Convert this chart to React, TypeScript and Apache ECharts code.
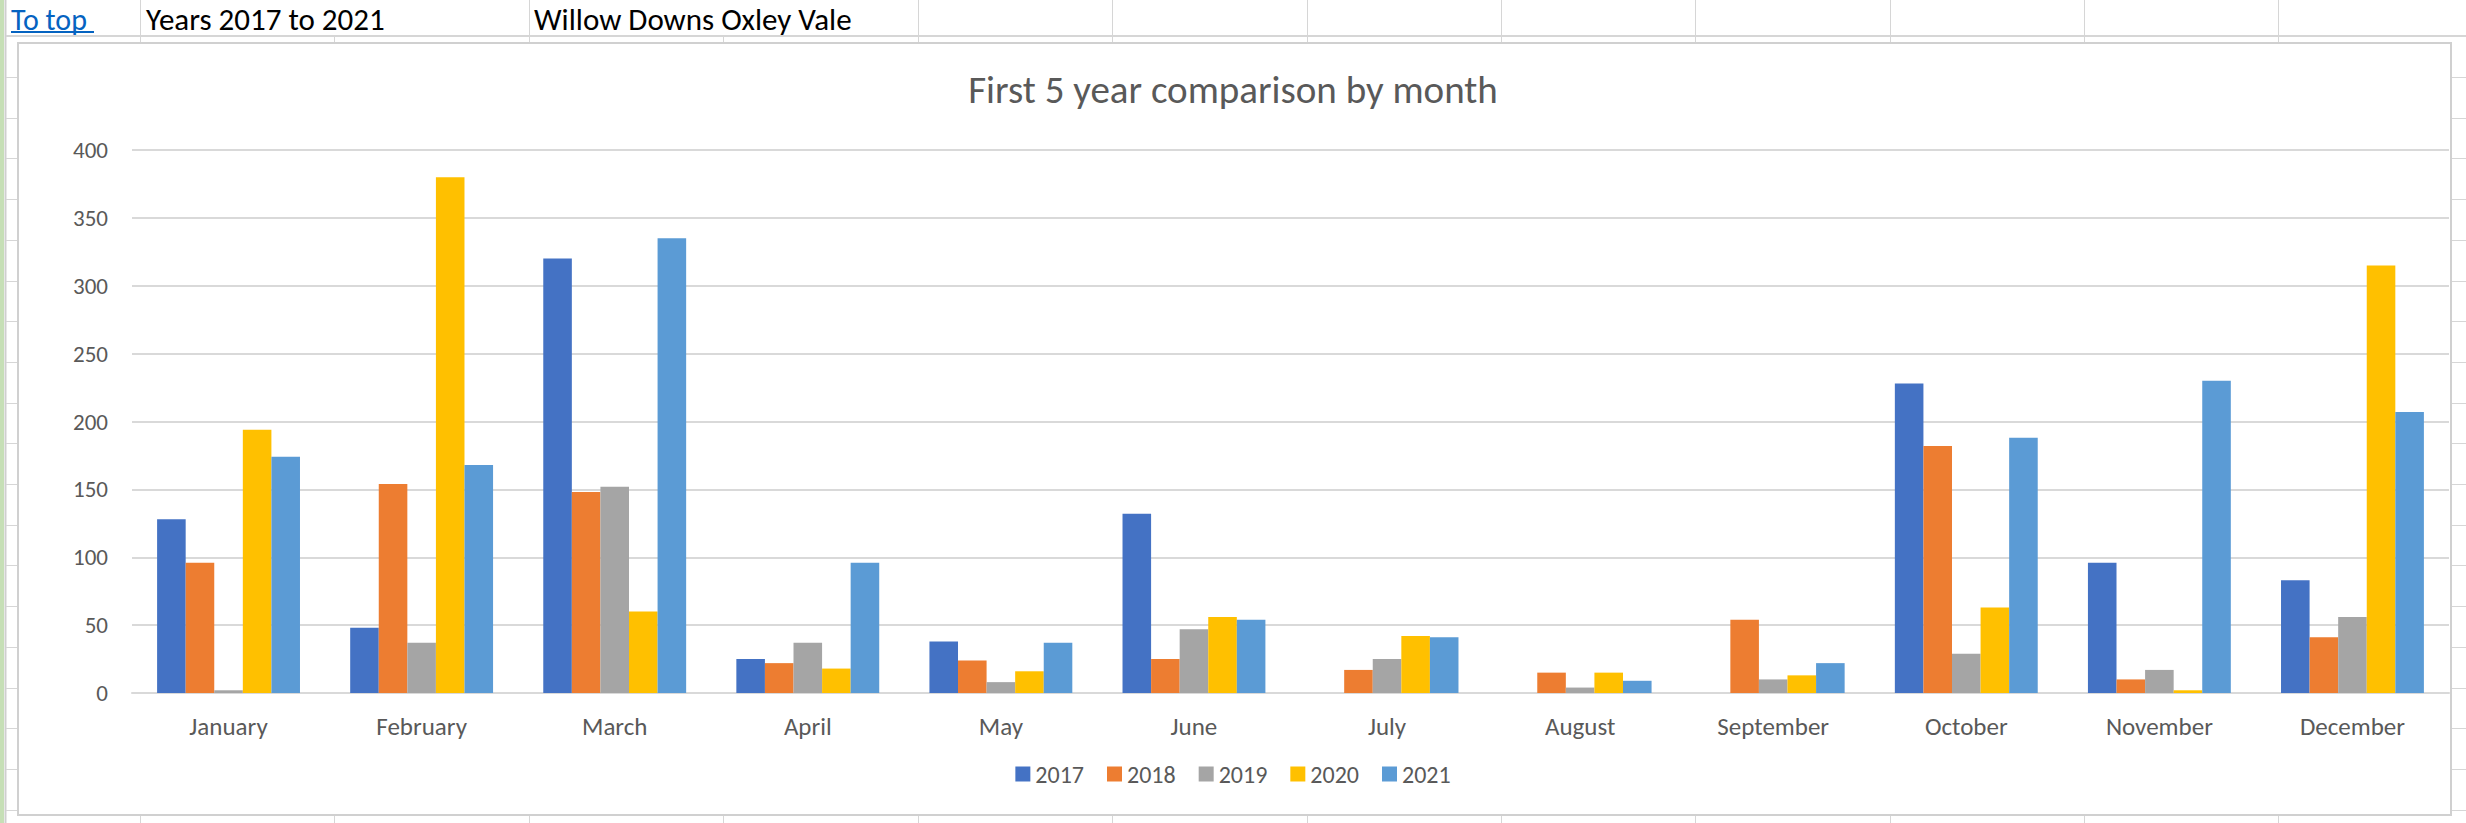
import React, { useEffect, useRef } from "react";
import * as echarts from "echarts";

const months = ["January", "February", "March", "April", "May", "June", "July", "August", "September", "October", "November", "December"];
const seriesNames = ["2017", "2018", "2019", "2020", "2021"];
const v2017 = [128, 48, 320, 25, 38, 132, 0, 0, 0, 228, 96, 83];
const v2018 = [96, 154, 148, 22, 24, 25, 17, 15, 54, 182, 10, 41];
const v2019 = [2, 37, 152, 37, 8, 47, 25, 4, 10, 29, 17, 56];
const v2020 = [194, 380, 60, 18, 16, 56, 42, 15, 13, 63, 2, 315];
const v2021 = [174, 168, 335, 96, 37, 54, 41, 9, 22, 188, 230, 207];
const seriesColors = ["#4472C4", "#ED7D31", "#A5A5A5", "#FFC000", "#5B9BD5"];
const yTicks = { min: 0, max: 400, interval: 50 };

const title = "First 5 year comparison by month";
const cellTexts = ["To top", "Years 2017 to 2021", "Willow Downs Oxley Vale"];

const FONT = "Carlito, Calibri, Lato, sans-serif";

export default function App() {
  const ref = useRef<HTMLDivElement>(null);
  useEffect(() => {
    if (!ref.current) return;
    const chart = echarts.init(ref.current, null, { renderer: "svg" });
    const W = 2466;
    const H = 823;
    const colX = [140, 334, 529, 723, 918, 1112, 1307, 1501, 1695, 1890, 2084, 2278];
    const rowY: number[] = [];
    for (let y = 77; y < H; y += 40.7) rowY.push(Math.round(y));
    const gridColor = "#d6d6d6";
    const graphics: any[] = [];
    graphics.push({ type: "rect", shape: { x: 0, y: 0, width: 4, height: H }, style: { fill: "#c6dfb6" }, z: -10 });
    graphics.push({ type: "line", shape: { x1: 5.5, y1: 0, x2: 5.5, y2: H }, style: { stroke: "#cfcfcf", lineWidth: 2 }, z: -10 });
    graphics.push({ type: "line", shape: { x1: 6, y1: 36, x2: W, y2: 36 }, style: { stroke: gridColor, lineWidth: 2 }, z: -10 });
    colX.forEach((x) => {
      const hidden = x === 334 || x === 723;
      if (!hidden) graphics.push({ type: "line", shape: { x1: x + 0.5, y1: 0, x2: x + 0.5, y2: 36 }, style: { stroke: gridColor, lineWidth: 1 }, z: -10 });
      graphics.push({ type: "line", shape: { x1: x + 0.5, y1: 36, x2: x + 0.5, y2: 44 }, style: { stroke: gridColor, lineWidth: 1 }, z: -10 });
      graphics.push({ type: "line", shape: { x1: x + 0.5, y1: 815, x2: x + 0.5, y2: H }, style: { stroke: gridColor, lineWidth: 1 }, z: -10 });
    });
    rowY.forEach((y) => {
      graphics.push({ type: "line", shape: { x1: 6, y1: y + 0.5, x2: 17, y2: y + 0.5 }, style: { stroke: gridColor, lineWidth: 1 }, z: -10 });
      graphics.push({ type: "line", shape: { x1: 2452, y1: y + 0.5, x2: W, y2: y + 0.5 }, style: { stroke: gridColor, lineWidth: 1 }, z: -10 });
    });
    graphics.push({ type: "rect", shape: { x: 18, y: 43, width: 2433, height: 772 }, style: { fill: "#ffffff", stroke: "#d0d0d0", lineWidth: 2 }, z: -5 });
    const cellFont = `30px ${FONT}`;
    graphics.push({ type: "text", x: 11, y: 19, style: { text: cellTexts[0], fill: "#0563C1", font: cellFont, textVerticalAlign: "middle" }, z: 1 });
    graphics.push({ type: "line", shape: { x1: 11, y1: 32, x2: 94, y2: 32 }, style: { stroke: "#0563C1", lineWidth: 2 }, z: 1 });
    graphics.push({ type: "text", x: 146, y: 19, style: { text: cellTexts[1], fill: "#000000", font: `31px ${FONT}`, textVerticalAlign: "middle" }, z: 1 });
    graphics.push({ type: "text", x: 534, y: 19, style: { text: cellTexts[2], fill: "#000000", font: `31px ${FONT}`, textVerticalAlign: "middle" }, z: 1 });

    const values = [v2017, v2018, v2019, v2020, v2021];
    chart.setOption({
      animation: false,
      backgroundColor: "#ffffff",
      graphic: { elements: graphics },
      title: {
        text: title,
        left: "center",
        top: 65,
        textStyle: { fontFamily: FONT, fontSize: 39, fontWeight: "normal", color: "#595959" },
      },
      legend: {
        data: seriesNames,
        left: "center",
        top: 757,
        icon: "rect",
        itemWidth: 15,
        itemHeight: 15,
        itemGap: 23,
        textStyle: { fontFamily: FONT, fontSize: 24, color: "#595959" },
      },
      grid: { left: 132, right: 17, top: 150, bottom: 130 },
      xAxis: {
        type: "category",
        data: months,
        axisTick: { show: false },
        axisLine: { lineStyle: { color: "#d9d9d9", width: 2 } },
        axisLabel: { fontFamily: FONT, fontSize: 25, color: "#595959", margin: 21 },
      },
      yAxis: {
        type: "value",
        min: yTicks.min,
        max: yTicks.max,
        interval: yTicks.interval,
        axisLine: { show: false },
        axisTick: { show: false },
        splitLine: { lineStyle: { color: "#d9d9d9", width: 2 } },
        axisLabel: { fontFamily: FONT, fontSize: 23, color: "#595959", margin: 24 },
      },
      series: seriesNames.map((name, i) => ({
        name,
        type: "bar",
        data: values[i],
        barGap: "0%",
        barCategoryGap: "26%",
        itemStyle: { color: seriesColors[i] },
      })),
    });
    return () => chart.dispose();
  }, []);
  return <div ref={ref} style={{ position: "absolute", left: 0, top: 0, width: 2466, height: 823 }} />;
}
